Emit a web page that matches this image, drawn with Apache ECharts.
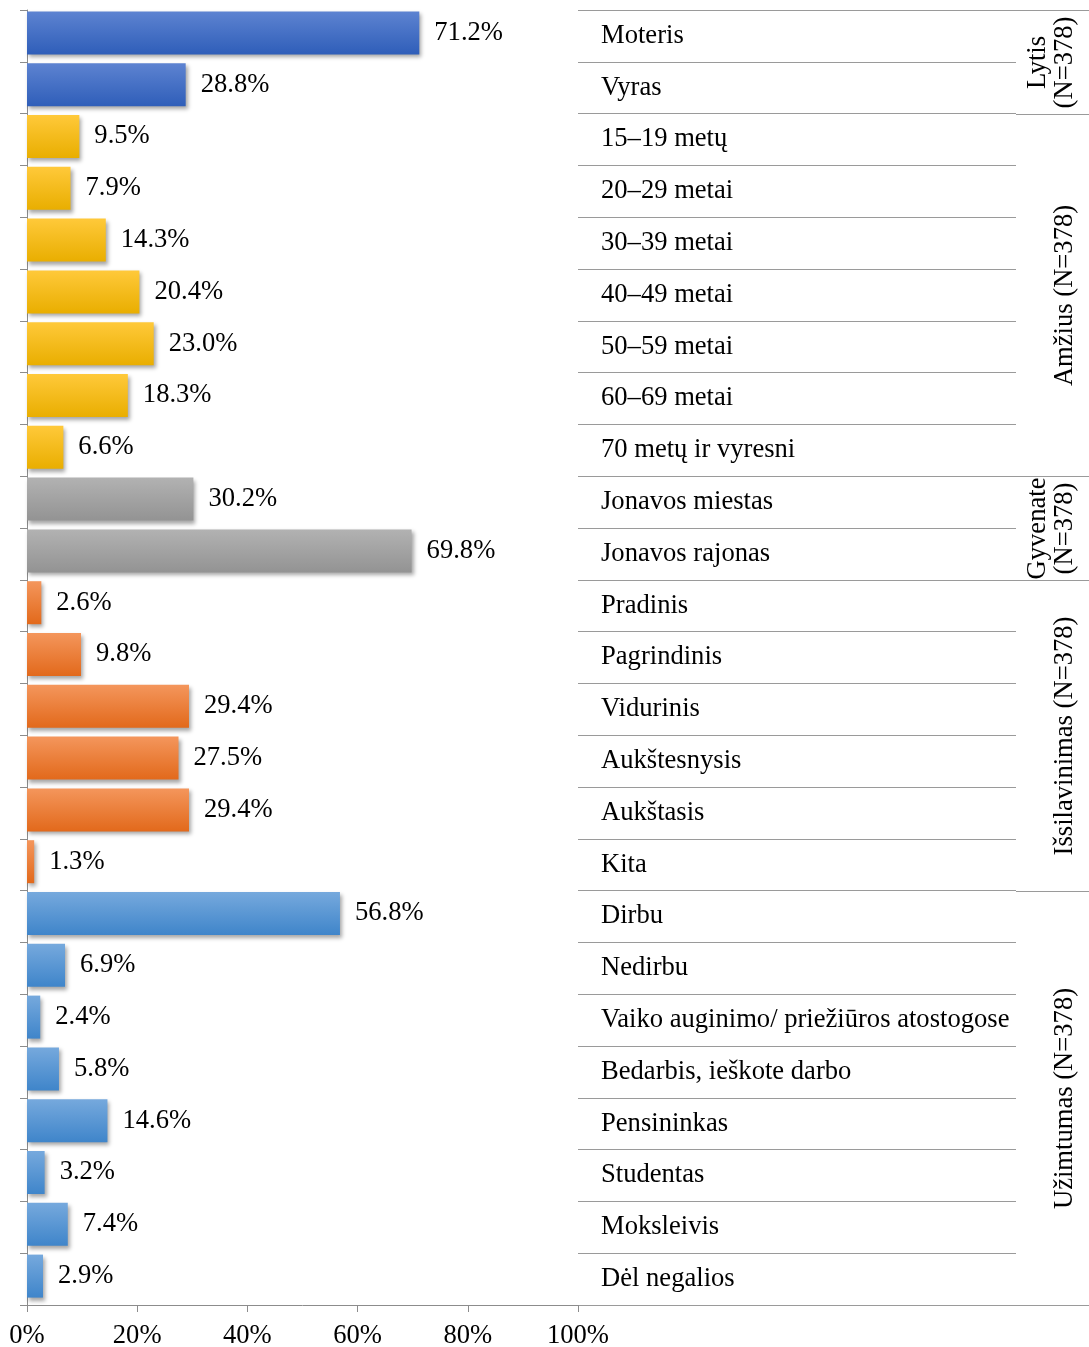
<!DOCTYPE html>
<html>
<head>
<meta charset="utf-8">
<script src="https://cdn.jsdelivr.net/npm/echarts@6/dist/echarts.min.js"></script>
<style>
html,body{margin:0;padding:0;background:#fff;}
#chart{width:1089px;height:1347px;}
</style>
</head>
<body>
<div id="chart"></div>
<script>
const categories = [
  'Moteris', 'Vyras',
  '15–19 metų', '20–29 metai', '30–39 metai', '40–49 metai', '50–59 metai', '60–69 metai', '70 metų ir vyresni',
  'Jonavos miestas', 'Jonavos rajonas',
  'Pradinis', 'Pagrindinis', 'Vidurinis', 'Aukštesnysis', 'Aukštasis', 'Kita',
  'Dirbu', 'Nedirbu', 'Vaiko auginimo/ priežiūros atostogose', 'Bedarbis, ieškote darbo', 'Pensininkas', 'Studentas', 'Moksleivis', 'Dėl negalios'
];
const values = [
  71.2, 28.8,
  9.5, 7.9, 14.3, 20.4, 23.0, 18.3, 6.6,
  30.2, 69.8,
  2.6, 9.8, 29.4, 27.5, 29.4, 1.3,
  56.8, 6.9, 2.4, 5.8, 14.6, 3.2, 7.4, 2.9
];
const groupNames = ['Lytis\n(N=378)', 'Amžius (N=378)', 'Gyvenate\n(N=378)', 'Išsilavinimas (N=378)', 'Užimtumas (N=378)'];
const groupSizes = [2, 7, 2, 6, 8];
const xTicks = [0, 20, 40, 60, 80, 100];

const FONT = "'Liberation Serif', 'Times New Roman', serif";
const FS = 26.6;
const groupGradients = [
  ['#5d83d1', '#2f5eb9'],
  ['#ffc93a', '#e9ae00'],
  ['#b2b2b2', '#939393'],
  ['#f4965c', '#e2691b'],
  ['#76a9dd', '#3f85ca']
];

const groupOf = [];
const spans = [];
let start = 0;
groupSizes.forEach((n, g) => {
  for (let i = 0; i < n; i++) groupOf.push(g);
  spans.push([start, start + n, g]);
  start += n;
});

function grad(g) {
  return new echarts.graphic.LinearGradient(0, 0, 0, 1, [
    {offset: 0, color: groupGradients[g][0]},
    {offset: 1, color: groupGradients[g][1]}
  ]);
}

const barData = values.map((v, i) => ({
  value: v,
  itemStyle: {color: grad(groupOf[i])}
}));

const chart = echarts.init(document.getElementById('chart'), null, {renderer: 'canvas'});
const option = {
  animation: false,
  backgroundColor: '#fff',
  grid: [
    {left: 27, right: 511, top: 10, bottom: 42, containLabel: false, outerBoundsMode: 'none'},
    {left: 578, right: 73, top: 10, bottom: 42, containLabel: false, outerBoundsMode: 'none'},
    {left: 1016, right: 0, top: 10, bottom: 42, containLabel: false, outerBoundsMode: 'none'},
    {left: 27, right: 511, top: 7, bottom: 45, containLabel: false, outerBoundsMode: 'none'}
  ],
  xAxis: [
    {
      gridIndex: 0, type: 'value', min: xTicks[0], max: xTicks[xTicks.length - 1], interval: 20,
      axisLine: {show: true, lineStyle: {color: '#8c8c8c', width: 1}},
      axisTick: {show: true, length: 7, lineStyle: {color: '#8c8c8c'}},
      splitLine: {show: false},
      axisLabel: {formatter: '{value}%', fontFamily: FONT, fontSize: FS, color: '#000', margin: 18}
    },
    {gridIndex: 1, type: 'value', min: 0, max: 1, show: false},
    {gridIndex: 2, type: 'value', min: 0, max: 1, show: false},
    {gridIndex: 3, type: 'value', min: xTicks[0], max: xTicks[xTicks.length - 1], show: false}
  ],
  yAxis: [
    {
      gridIndex: 0, type: 'category', data: categories, inverse: true,
      axisLine: {show: true, lineStyle: {color: '#8c8c8c', width: 1}},
      axisTick: {show: true, length: 7, lineStyle: {color: '#8c8c8c'}},
      axisLabel: {show: false},
      splitLine: {show: false}
    },
    {
      gridIndex: 1, type: 'category', data: categories, inverse: true,
      axisLine: {show: false}, axisTick: {show: false},
      splitLine: {show: true, lineStyle: {color: '#9a9a9a', width: 1}},
      axisLabel: {inside: true, margin: 23, fontFamily: FONT, fontSize: FS, color: '#000', padding: [4, 0, 0, 0]}
    },
    {gridIndex: 2, type: 'value', min: 0, max: categories.length, inverse: true, show: false},
    {gridIndex: 3, type: 'category', data: categories, inverse: true, show: false}
  ],
  series: [
    {
      type: 'bar', xAxisIndex: 3, yAxisIndex: 3,
      data: barData,
      barCategoryGap: '17%',
      itemStyle: {shadowColor: 'rgba(0,0,0,0.35)', shadowBlur: 4, shadowOffsetX: 2, shadowOffsetY: 3},
      label: {
        show: true, position: 'right', distance: 15,
        formatter: p => p.value.toFixed(1) + '%',
        fontFamily: FONT, fontSize: FS, color: '#000'
      }
    },
    {
      type: 'custom', xAxisIndex: 2, yAxisIndex: 2,
      data: spans,
      encode: {y: [0, 1]},
      renderItem: function (params, api) {
        const cs = params.coordSys;
        const y0 = Math.round(api.coord([0, api.value(0)])[1]) + 0.5;
        const y1 = Math.round(api.coord([0, api.value(1)])[1]) + 0.5;
        const g = api.value(2);
        const lineStyle = {stroke: '#9a9a9a', lineWidth: 1};
        return {
          type: 'group',
          children: [
            {type: 'line', shape: {x1: cs.x, y1: y0, x2: cs.x + cs.width, y2: y0}, style: lineStyle},
            {type: 'line', shape: {x1: cs.x, y1: y1, x2: cs.x + cs.width, y2: y1}, style: lineStyle},
            {
              type: 'text',
              x: cs.x + cs.width - 10,
              y: (y0 + y1) / 2,
              rotation: Math.PI / 2,
              style: {
                text: groupNames[g],
                textAlign: 'center',
                textVerticalAlign: 'bottom',
                font: FS + 'px ' + FONT,
                lineHeight: 27,
                fill: '#000'
              }
            }
          ]
        };
      }
    }
  ]
};
chart.setOption(option);
</script>
</body>
</html>
